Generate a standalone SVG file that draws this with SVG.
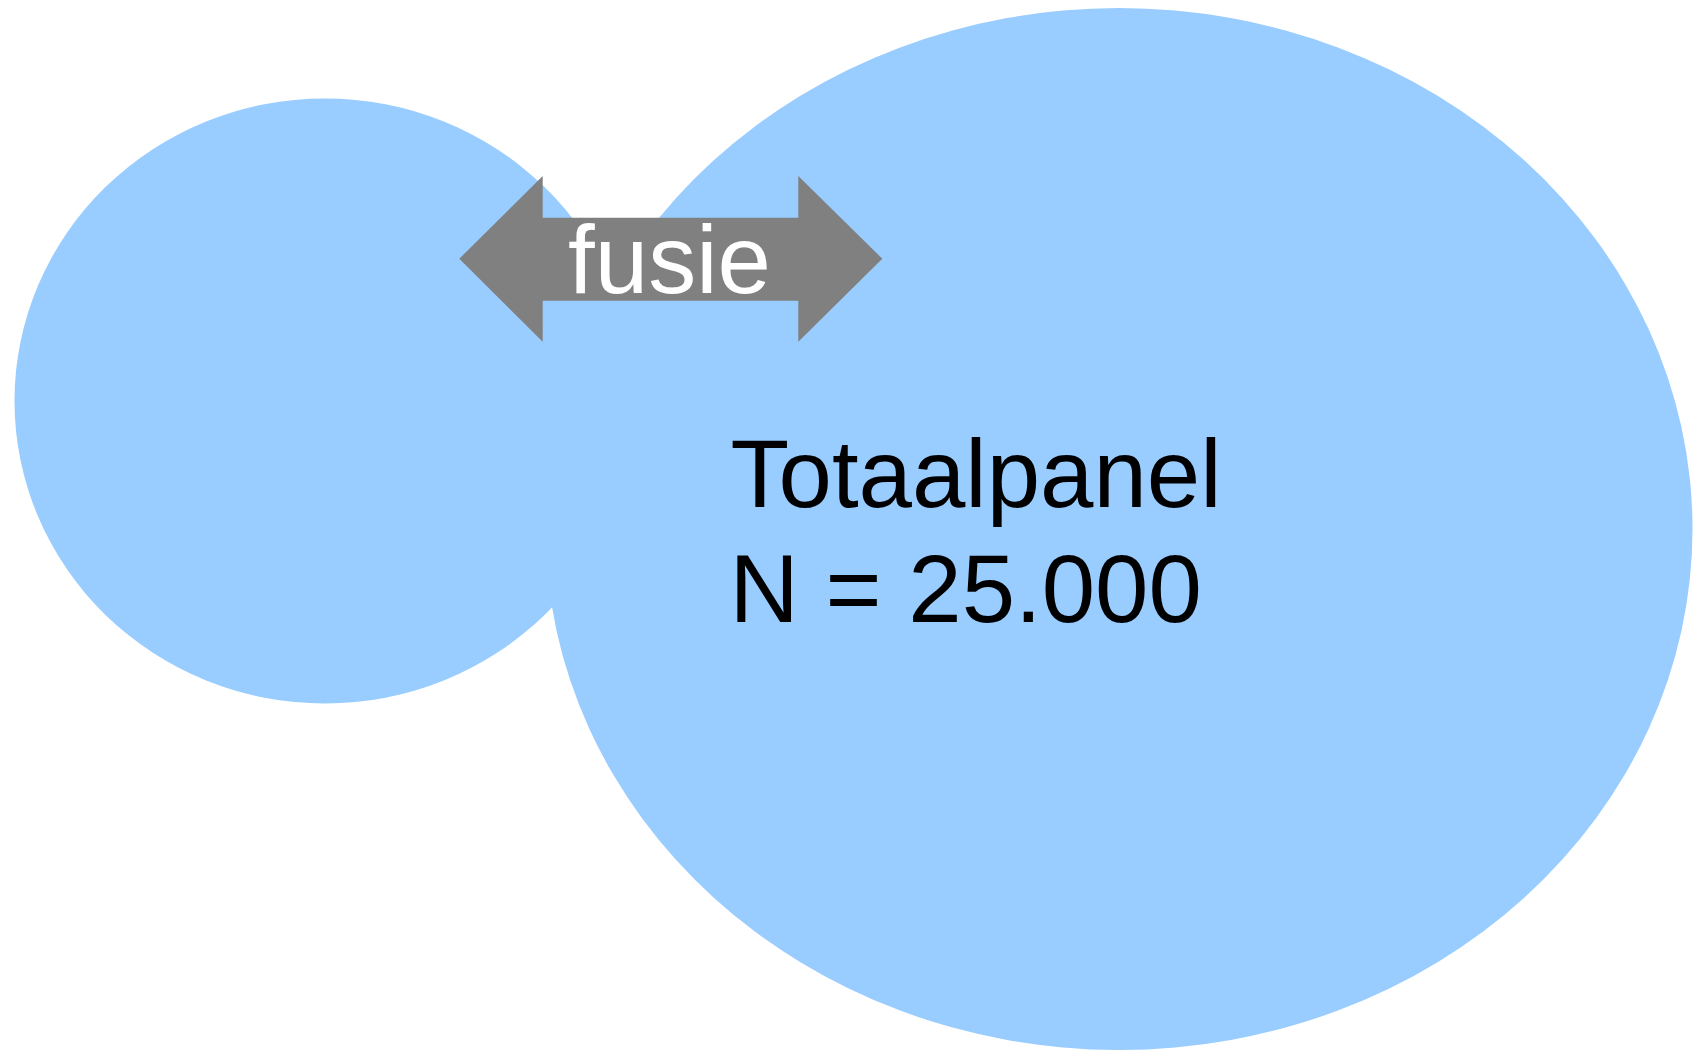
<svg xmlns="http://www.w3.org/2000/svg" width="1697" height="1052" viewBox="0 0 1697 1052">
<style>
.blob{fill:#99CCFF}
.lbl{font-family:"Liberation Sans",Arial,sans-serif;font-size:96px}
</style>
<rect width="1697" height="1052" fill="#FFFFFF"/>
<g id="node-small">
<ellipse class="blob" cx="325" cy="401" rx="310.5" ry="302.5"/>
</g>
<g id="node-totaalpanel">
<ellipse class="blob" cx="1119" cy="529" rx="573.5" ry="521"/>
<text class="lbl" fill="#000000"><tspan x="730.5" y="506.7">Totaalpanel</tspan><tspan x="729.5" y="621.7">N = 25.000</tspan></text>
</g>
<g id="connectors">
<polygon fill="#808080" points="459.3,258.7 542.7,176 542.7,217.7 798.3,217.7 798.3,176 882.3,258.7 798.3,341.7 798.3,300.7 542.7,300.7 542.7,341.7"/>
<text class="lbl" fill="#FFFFFF" x="669.5" y="293.3" text-anchor="middle">fusie</text>
</g>
</svg>
